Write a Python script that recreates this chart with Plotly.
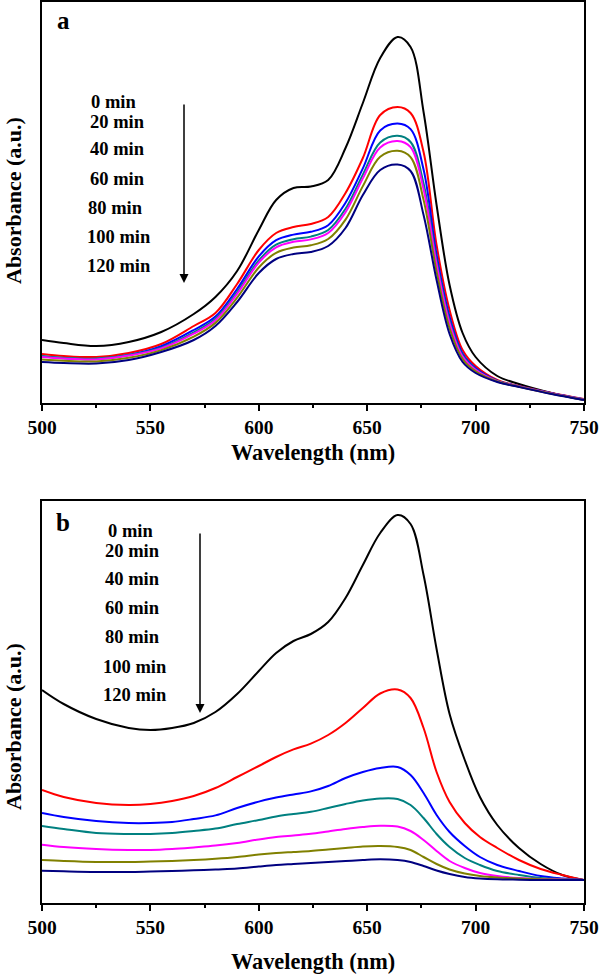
import plotly.graph_objects as go

# ---------------- data ----------------
times = ["0 min", "20 min", "40 min", "60 min", "80 min", "100 min", "120 min"]
colors = ["#000000", "#FF0000", "#0000FF", "#008080", "#FF00FF", "#808000", "#000080"]

wl_a = [500, 510, 525, 540, 555, 570, 580, 590, 600, 608, 616, 624, 632, 640,
        648, 656, 664, 670, 676, 682, 688, 694, 700, 710, 720, 735, 750]

a_0 = [0.315, 0.300, 0.285, 0.305, 0.355, 0.445, 0.530, 0.660, 0.865, 1.015, 1.075, 1.0825, 1.115, 1.275,
       1.500, 1.725, 1.830, 1.780, 1.455, 0.990, 0.590, 0.350, 0.230, 0.135, 0.095, 0.050, 0.015]
a_20 = [0.245, 0.235, 0.230, 0.250, 0.295, 0.385, 0.450, 0.595, 0.765, 0.850, 0.880, 0.895, 0.930, 1.050,
        1.225, 1.440, 1.480, 1.450, 1.255, 0.790, 0.465, 0.265, 0.185, 0.115, 0.085, 0.050, 0.020]
a_40 = [0.2325, 0.224, 0.220, 0.240, 0.284, 0.365, 0.432, 0.570, 0.733, 0.814, 0.842, 0.856, 0.889, 1.001,
        1.173, 1.363, 1.397, 1.369, 1.167, 0.741, 0.431, 0.248, 0.175, 0.112, 0.0835, 0.0485, 0.0185]
a_60 = [0.235, 0.226, 0.222, 0.240, 0.277, 0.3535, 0.421, 0.5545, 0.713, 0.7915, 0.819, 0.832, 0.865, 0.971,
        1.142, 1.3025, 1.336, 1.305, 1.0975, 0.711, 0.411, 0.238, 0.169, 0.1105, 0.083, 0.048, 0.018]
a_80 = [0.230, 0.222, 0.218, 0.237, 0.273, 0.3465, 0.414, 0.5455, 0.702, 0.7785, 0.806, 0.818, 0.850, 0.954,
        1.123, 1.278, 1.310, 1.279, 1.069, 0.694, 0.399, 0.232, 0.166, 0.1095, 0.0825, 0.0475, 0.0175]
a_100 = [0.2174, 0.2108, 0.2076, 0.2258, 0.2646, 0.3318, 0.4006, 0.5266, 0.6776, 0.7512, 0.7774, 0.7886, 0.8198, 0.917,
         1.0844, 1.231, 1.2615, 1.2296, 1.0156, 0.657, 0.3738, 0.2194, 0.1584, 0.1074, 0.0812, 0.0462, 0.0162]
a_120 = [0.205, 0.200, 0.1975, 0.215, 0.255, 0.315, 0.385, 0.505, 0.650, 0.720, 0.745, 0.755, 0.785, 0.875,
         1.040, 1.165, 1.1925, 1.160, 0.940, 0.615, 0.345, 0.205, 0.150, 0.105, 0.080, 0.045, 0.015]

wl_b = [500, 510, 525, 540, 550, 560, 570, 580, 590, 600, 608, 616, 624, 632, 640,
        648, 656, 664, 670, 676, 682, 688, 695, 702, 710, 720, 730, 740, 750]

b_0 = [1.065, 0.995, 0.920, 0.875, 0.865, 0.875, 0.900, 0.955, 1.045, 1.160, 1.250, 1.310, 1.345, 1.405, 1.525,
       1.690, 1.850, 1.940, 1.895, 1.640, 1.270, 0.945, 0.715, 0.530, 0.390, 0.275, 0.195, 0.140, 0.115]
b_20 = [0.565, 0.530, 0.500, 0.490, 0.495, 0.510, 0.535, 0.575, 0.630, 0.685, 0.730, 0.768, 0.797, 0.840, 0.900,
        0.975, 1.0475, 1.0675, 1.025, 0.875, 0.655, 0.505, 0.400, 0.330, 0.275, 0.215, 0.170, 0.140, 0.115]
b_40 = [0.450, 0.430, 0.410, 0.400, 0.400, 0.405, 0.420, 0.438, 0.475, 0.507, 0.527, 0.543, 0.558, 0.585, 0.625,
        0.655, 0.675, 0.680, 0.640, 0.550, 0.440, 0.355, 0.285, 0.230, 0.190, 0.160, 0.135, 0.1225, 0.115]
b_60 = [0.385, 0.370, 0.350, 0.345, 0.345, 0.350, 0.360, 0.372, 0.395, 0.415, 0.433, 0.445, 0.456, 0.475, 0.495,
        0.5125, 0.5225, 0.520, 0.490, 0.425, 0.345, 0.280, 0.225, 0.190, 0.160, 0.140, 0.125, 0.120, 0.115]
b_80 = [0.2915, 0.280, 0.270, 0.265, 0.265, 0.270, 0.278, 0.287, 0.300, 0.318, 0.330, 0.338, 0.346, 0.358, 0.370,
        0.380, 0.3865, 0.3825, 0.360, 0.315, 0.260, 0.210, 0.175, 0.150, 0.135, 0.125, 0.120, 0.1175, 0.115]
b_100 = [0.215, 0.210, 0.205, 0.205, 0.2075, 0.210, 0.2145, 0.221, 0.230, 0.2425, 0.250, 0.255, 0.260, 0.2675, 0.275,
         0.2825, 0.285, 0.280, 0.265, 0.230, 0.195, 0.1675, 0.1475, 0.135, 0.1275, 0.1225, 0.1185, 0.1165, 0.115]
b_120 = [0.1615, 0.1585, 0.155, 0.155, 0.1575, 0.160, 0.1635, 0.168, 0.1725, 0.1825, 0.190, 0.195, 0.200, 0.205, 0.210,
         0.215, 0.2185, 0.215, 0.205, 0.185, 0.1625, 0.145, 0.130, 0.1225, 0.1185, 0.1165, 0.115, 0.115, 0.115]

series_a = [a_0, a_20, a_40, a_60, a_80, a_100, a_120]
series_b = [b_0, b_20, b_40, b_60, b_80, b_100, b_120]

x_ticks = [500, 550, 600, 650, 700, 750]

# ---------------- figure ----------------
W, H = 600, 974
FONT = "Liberation Serif"

fig = go.Figure()
for name, ys, c in zip(times, series_a, colors):
    fig.add_trace(go.Scatter(x=wl_a, y=ys, mode="lines", name=name,
                             line=dict(color=c, width=2, shape="spline", smoothing=1.0),
                             xaxis="x", yaxis="y", showlegend=False))
for name, ys, c in zip(times, series_b, colors):
    fig.add_trace(go.Scatter(x=wl_b, y=ys, mode="lines", name=name,
                             line=dict(color=c, width=2, shape="spline", smoothing=1.0),
                             xaxis="x2", yaxis="y2", showlegend=False))

def px(x):
    return x / W

def py(y):
    return 1 - y / H

xax = dict(range=[500, 750], tickvals=x_ticks, ticks="outside", ticklen=6, tickwidth=1.5,
           tickcolor="black", showline=True, linecolor="black", linewidth=2, mirror=True,
           showgrid=False, zeroline=False,
           tickfont=dict(family=FONT, size=19.5, color="black", weight="bold"),
           minor=dict(dtick=25, tick0=500, ticks="outside", ticklen=3, tickwidth=1.5, tickcolor="black"))
yax = dict(showticklabels=False, ticks="", showline=True, linecolor="black", linewidth=2,
           mirror=True, showgrid=False, zeroline=False)

fig.update_layout(
    width=W, height=H, margin=dict(l=0, r=0, t=0, b=0, autoexpand=False),
    paper_bgcolor="white", plot_bgcolor="white",
    xaxis=dict(**xax, domain=[px(42), px(584)], anchor="y"),
    yaxis=dict(**yax, range=[0, 2.005], domain=[py(403), py(2)], anchor="x"),
    xaxis2=dict(**xax, domain=[px(42), px(584)], anchor="y2"),
    yaxis2=dict(**yax, range=[0, 2.01], domain=[py(903), py(501)], anchor="x2"),
)

ann = []
def txt(t, x, y, size, angle=0):
    ann.append(dict(text=t, x=px(x), y=py(y), xref="paper", yref="paper", showarrow=False,
                    xanchor="center", yanchor="middle", textangle=angle,
                    font=dict(family=FONT, size=size, color="black", weight="bold")))

# panel labels
txt("a", 63, 21, 25)
txt("b", 63, 522, 25)

# time labels
pos_a = [(113, 102), (117, 122), (117, 149), (117, 179), (115, 208), (119, 237), (119, 266)]
pos_b = [(130, 531), (132, 551), (132, 579), (132, 608), (132, 637), (135, 667), (135, 695)]
for t, (x, y) in zip(times, pos_a):
    txt(t, x, y, 18.5)
for t, (x, y) in zip(times, pos_b):
    txt(t, x, y, 18.5)

# axis titles
txt("Wavelength (nm)", 313, 452, 22.3)
txt("Wavelength (nm)", 313, 961, 22.3)
txt("Absorbance (a.u.)", 13, 201, 22, -90)
txt("Absorbance (a.u.)", 13, 727, 22, -90)

# arrows (head position, tail offset in pixels)
for (x0, y0, y1) in [(184, 103, 283), (200, 532, 713)]:
    ann.append(dict(x=px(x0), y=py(y1), xref="paper", yref="paper",
                    ax=0, ay=y0 - y1, axref="pixel", ayref="pixel",
                    showarrow=True, arrowhead=2, arrowsize=1.2,
                    arrowwidth=1.5, arrowcolor="black", text=""))

fig.update_layout(annotations=ann)
fig.write_html("out.html",
               config={"displayModeBar": False},
               post_script="document.body.style.margin='0';document.body.style.padding='0';"
                           "document.documentElement.style.overflow='hidden';")
